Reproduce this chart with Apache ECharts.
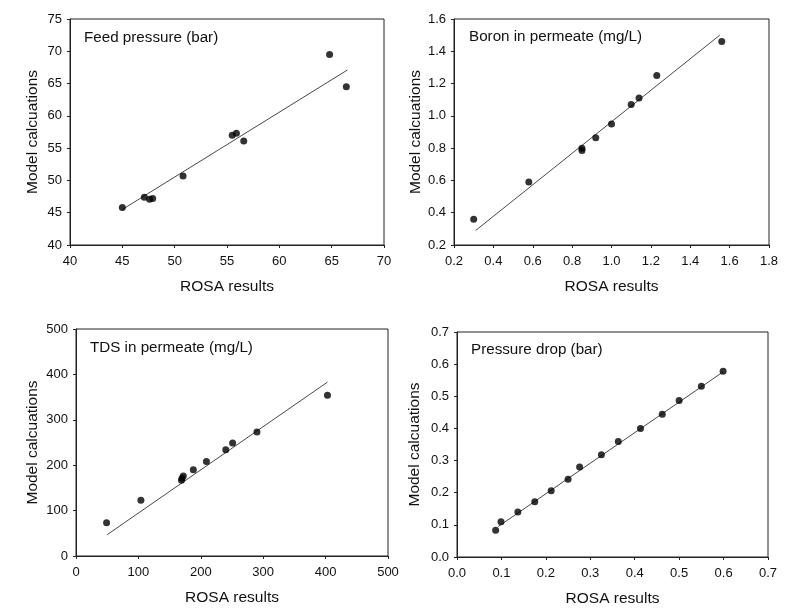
<!DOCTYPE html>
<html>
<head>
<meta charset="utf-8">
<script src="https://cdn.jsdelivr.net/npm/echarts@6/dist/echarts.min.js"></script>
<style>html,body{margin:0;padding:0;background:#fff}#c{width:799px;height:614px}</style>
</head>
<body>
<div id="c"></div>
<script>
// Panel titles
const panelTitles = ['Feed pressure (bar)', 'Boron in permeate (mg/L)', 'TDS in permeate (mg/L)', 'Pressure drop (bar)'];
const xAxisName = 'ROSA results';
const yAxisName = 'Model calcuations';

// Feed pressure
const feedRosa  = [45.0, 47.1, 47.6, 47.9, 50.8, 55.5, 55.9, 56.6, 64.8, 66.4];
const feedModel = [45.8, 47.4, 47.1, 47.2, 50.7, 57.0, 57.3, 56.1, 69.5, 64.5];
const feedFitX  = [45.0, 66.5];
const feedFitY  = [45.5, 67.1];

// Boron in permeate
const boronRosa  = [0.30, 0.58, 0.85, 0.85, 0.92, 1.00, 1.10, 1.14, 1.23, 1.56];
const boronModel = [0.36, 0.59, 0.80, 0.785, 0.865, 0.95, 1.07, 1.11, 1.25, 1.46];
const boronFitX  = [0.31, 1.55];
const boronFitY  = [0.29, 1.50];

// TDS in permeate
const tdsRosa  = [49, 104, 169, 170, 172, 188, 209, 240, 251, 290, 403];
const tdsModel = [73, 123, 167, 171, 176, 190, 208, 234, 249, 273, 354];
const tdsFitX  = [50, 403];
const tdsFitY  = [47, 383];

// Pressure drop
const dropRosa  = [0.087, 0.099, 0.137, 0.175, 0.212, 0.250, 0.276, 0.325, 0.363, 0.413, 0.462, 0.500, 0.550, 0.599];
const dropModel = [0.083, 0.110, 0.140, 0.172, 0.206, 0.242, 0.280, 0.318, 0.359, 0.400, 0.444, 0.487, 0.531, 0.578];
const dropFitX  = [0.093, 0.599];
const dropFitY  = [0.095, 0.576];

// Axis ranges [min, max, interval, decimals]
const xRanges = [[40, 70, 5, 0], [0.2, 1.8, 0.2, 1], [0, 500, 100, 0], [0, 0.7, 0.1, 1]];
const yRanges = [[40, 75, 5, 0], [0.2, 1.6, 0.2, 1], [0, 500, 100, 0], [0, 0.7, 0.1, 1]];

const panels = [
  [feedRosa, feedModel, feedFitX, feedFitY],
  [boronRosa, boronModel, boronFitX, boronFitY],
  [tdsRosa, tdsModel, tdsFitX, tdsFitY],
  [dropRosa, dropModel, dropFitX, dropFitY]
];

const grids = [
  {left: 70, top: 19, width: 314, height: 226},
  {left: 454, top: 19, width: 315, height: 226},
  {left: 76, top: 329, width: 312, height: 227},
  {left: 457, top: 332, width: 311, height: 225}
];
const titlePos = [[84, 30], [469, 29], [90, 340], [471, 342]];
const yNameGaps = [29, 30, 35, 34];

const FONT = 'Liberation Sans, Arial, sans-serif';
const axisColor = '#222';

function mkAxis(r, isX, idx) {
  return {
    type: 'value', gridIndex: idx,
    min: r[0], max: r[1], interval: r[2],
    name: isX ? xAxisName : yAxisName,
    nameLocation: 'middle',
    nameGap: isX ? 34 : yNameGaps[idx],
    nameTextStyle: {fontFamily: FONT, fontSize: 15.5, color: '#111'},
    axisLine: {show: true, onZero: false, lineStyle: {color: axisColor, width: 1}},
    axisTick: {show: true, inside: false, length: 3, lineStyle: {color: axisColor}},
    splitLine: {show: false},
    axisLabel: {
      fontFamily: FONT, fontSize: 13, color: '#111', margin: isX ? 10 : 8,
      formatter: v => Number(v).toFixed(r[3])
    }
  };
}

const option = {
  animation: false,
  backgroundColor: '#fff',
  title: panelTitles.map((t, i) => ({
    text: t, left: titlePos[i][0], top: titlePos[i][1], padding: 0,
    textStyle: {fontFamily: FONT, fontSize: 15.2, fontWeight: 'normal', color: '#111'}
  })),
  grid: grids.map(g => Object.assign({show: true, borderColor: axisColor, borderWidth: 1, backgroundColor: 'transparent'}, g)),
  xAxis: xRanges.map((r, i) => mkAxis(r, true, i)),
  yAxis: yRanges.map((r, i) => mkAxis(r, false, i)),
  series: []
};

panels.forEach((p, i) => {
  option.series.push({
    type: 'line', xAxisIndex: i, yAxisIndex: i,
    data: p[2].map((x, k) => [x, p[3][k]]),
    showSymbol: false, symbol: 'none',
    lineStyle: {color: '#333', width: 0.9}, z: 1
  });
  option.series.push({
    type: 'scatter', xAxisIndex: i, yAxisIndex: i,
    data: p[0].map((x, k) => [x, p[1][k]]),
    symbol: 'circle', symbolSize: 7,
    itemStyle: {color: '#000'}, z: 2
  });
});

const chart = echarts.init(document.getElementById('c'), null, {renderer: 'canvas'});
chart.setOption(option);
</script>
</body>
</html>
